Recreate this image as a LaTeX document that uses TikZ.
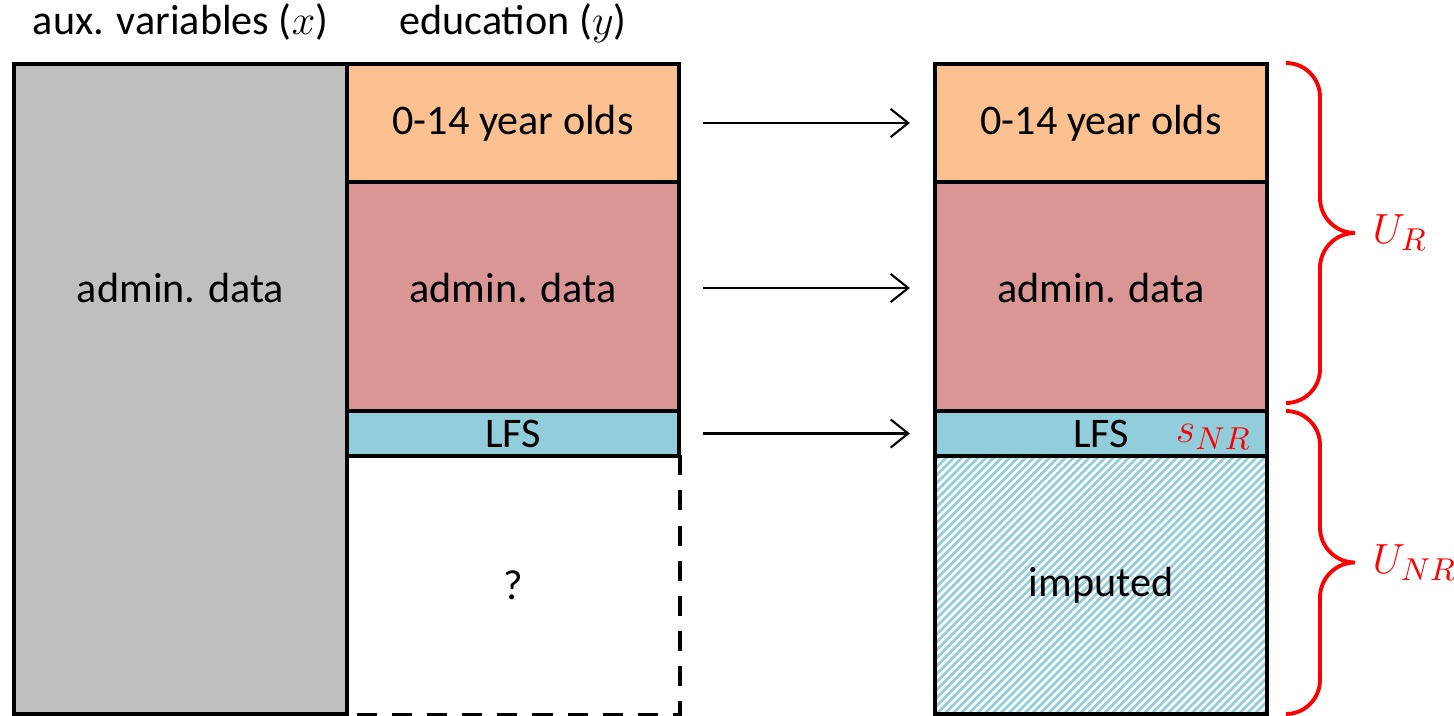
\documentclass[tikz,border=0pt]{standalone}
\usepackage{fontspec}
\setmainfont{Carlito}
\usetikzlibrary{calc, arrows.meta, patterns.meta}

\definecolor{auxgray}{HTML}{BFBFBF}
\definecolor{kidorange}{HTML}{FAC090}
\definecolor{adminred}{HTML}{D99694}
\definecolor{lfsblue}{HTML}{92CDDC}

\tikzset{
  cell/.style={draw, line width=1.2pt, inner sep=0pt, minimum width=3.32cm},
  flow/.style={line width=0.6pt, -{Straight Barb[length=5pt, width=8pt]}, shorten <=2.2mm, shorten >=2.3mm},
  bracered/.style={red, line width=1.1pt},
  hatched/.style={preaction={fill=lfsblue}, pattern={Lines[angle=45, distance=1.6pt, line width=0.75pt]}, pattern color=white}
}

% curly brace on the right: x of the ends, top y, bottom y, label
\newcommand{\drawSideBrace}[4]{
  \draw[bracered] (#1,#2) arc[start angle=90, end angle=0, radius=0.34]
    -- ({#1+0.34},{((#2)+(#3))/2+0.35}) arc[start angle=180, end angle=270, radius=0.35]
    coordinate (tip) arc[start angle=90, end angle=180, radius=0.35]
    -- ({#1+0.34},{#3+0.34}) arc[start angle=0, end angle=-90, radius=0.34];
  \node[red, anchor=west, inner sep=0pt, font=\fontsize{13}{15}\selectfont] at ([xshift=1.7mm]tip) {#4};
}

\begin{document}
\begin{tikzpicture}[font=\fontsize{12}{14.4}\selectfont]
  \useasboundingbox (0,0) rectangle (14.54,-7.16);
  % column headers
  \node[anchor=base] (auxhead) at (1.805,-0.35) {aux. variables ($x$)};
  \node[anchor=base] (eduhead) at (5.13,-0.35) {education ($y$)};

  % left block: register data and partly observed education
  \node[cell, fill=auxgray, minimum width=3.33cm, minimum height=6.5cm] (aux) at (1.805,-3.89) {};
  \node (auxtext) at (1.805,-2.88) {admin. data};
  \node[cell, fill=kidorange, minimum height=1.18cm] (kid) at (5.13,-1.23) {0-14 year olds};
  \node[cell, fill=adminred, minimum height=2.29cm] (adm) at (5.13,-2.965) {};
  \node (admtext) at (5.13,-2.88) {admin. data};
  \node[cell, fill=lfsblue, minimum height=0.45cm] (lfs) at (5.13,-4.335) {LFS};
  \node[minimum width=3.32cm, minimum height=2.58cm, inner sep=0pt] (unk) at (5.13,-5.85) {?};
  \draw[line width=1.2pt, dash pattern=on 5.7pt off 4.3pt] (unk.north east) -- (unk.south east) -- (unk.south west);

  % right block: completed education
  \node[cell, fill=kidorange, minimum height=1.18cm] (kidR) at (11.01,-1.23) {0-14 year olds};
  \node[cell, fill=adminred, minimum height=2.29cm] (admR) at (11.01,-2.965) {};
  \node (admtextR) at (11.01,-2.88) {admin. data};
  \node[cell, fill=lfsblue, minimum height=0.45cm] (lfsR) at (11.01,-4.335) {LFS};
  \node[cell, hatched, minimum height=2.58cm] (impR) at (11.01,-5.85) {imputed};
  \node[red, anchor=east, inner sep=0pt, font=\fontsize{13}{15}\selectfont] (snr) at ([xshift=-1.7mm, yshift=-0.3mm]lfsR.east) {$s_{NR}$};

  % copied values
  \draw[flow] (kid.east) -- (kidR.west);
  \draw[flow] (admtext -| adm.east) -- (admtextR -| admR.west);
  \draw[flow] (lfs.east) -- (lfsR.west);

  % population parts
  \drawSideBrace{12.86}{-0.63}{-4.03}{$U_R$}
  \drawSideBrace{12.86}{-4.11}{-7.14}{$U_{NR}$}
\end{tikzpicture}
\end{document}
